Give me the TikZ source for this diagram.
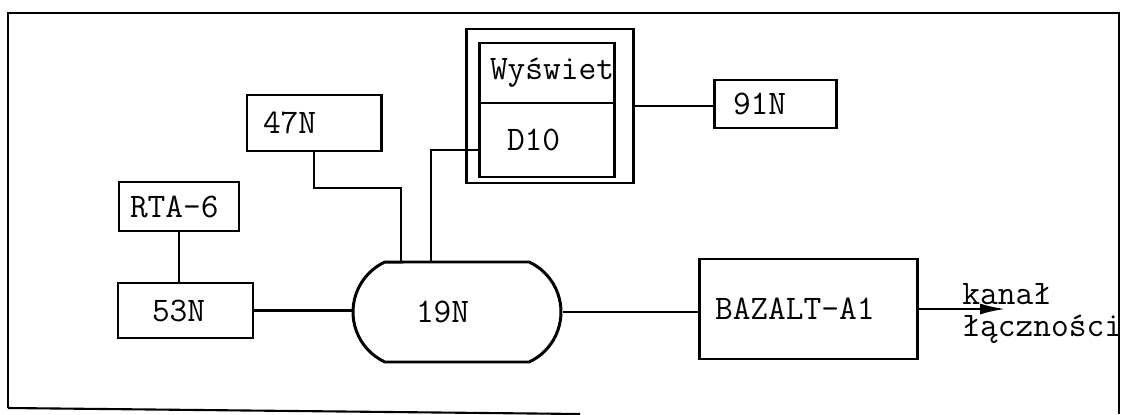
\documentclass[tikz,border=0pt]{standalone}
\usepackage{fontspec}
\usetikzlibrary{shapes.misc,arrows.meta}
\tikzset{
  blok/.style={draw,line width=1.7pt,align=left,inner ysep=0pt},
  link/.style={line width=1.2pt}
}
\begin{document}
\begin{tikzpicture}[every node/.style={font=\ttfamily\fontsize{19.6}{18.1}\selectfont}]
\useasboundingbox (0,0) rectangle (22.64,8.28);
% frame
\draw[line width=1.2pt] (0.16,0.12) -- (0.16,8.02) -- (22.38,8.02) -- (22.38,0);
\draw[line width=1.2pt] (0.16,0.12) -- (11.6,0);
% blocks
\node[blok,minimum height=1.12cm,text width=2.04cm,inner xsep=0.32cm] (n47) at (6.28,5.82) {47N};
\node[blok,minimum height=0.98cm,text width=1.96cm,inner xsep=0.22cm] (rta) at (3.58,4.15) {RTA-6};
\node[blok,minimum height=1.1cm,text width=1.34cm,inner xsep=0.68cm] (n53) at (3.71,2.07) {53N};
\node[blok,rounded rectangle,rounded rectangle arc length=130,minimum width=4.16cm,minimum height=2cm,
  text width=1.64cm,inner xsep=0pt] (n19) at (9.14,2.04) {19N};
\node[blok,minimum height=2cm,text width=3.72cm,inner xsep=0.32cm] (bazalt) at (16.16,2.1) {BAZALT-A1};
\node[blok,minimum height=0.96cm,text width=1.68cm,inner xsep=0.38cm] (n91) at (15.5,6.2) {91N};
% display unit
\node[draw,line width=1.7pt,minimum width=3.34cm,minimum height=3.08cm,inner sep=0pt] (wysw) at (10.99,6.16) {};
\node[blok,minimum height=1.2cm,text width=2.26cm,inner xsep=0.22cm] (wys) at (10.93,6.82) {Wyświet};
\node[blok,minimum height=1.48cm,text width=1.58cm,inner xsep=0.56cm] (dten) at (10.93,5.48) {D10};
\node[anchor=north west,align=left,inner sep=0pt] (kanal) at (19.24,2.62) {kanał\\łączności};
% links
\coordinate (w1) at (8.02,4.52);
\coordinate (w2) at (8.62,5.28);
\coordinate (kres) at (20.1,2.06);
\draw[link] (n47.south) |- (w1) -- (w1 |- n19.north);
\draw[link] (n19.north -| w2) -- (w2) -- (w2 -| dten.west);
\draw[link] (wysw.east) -- (wysw.east -| n91.west);
\draw[link] (rta.south) -- (rta.south |- n53.north);
\draw[link] (n53.east) -- (n53.east -| n19.west);
\draw[link] (n19.east) -- (n19.east -| bazalt.west);
\draw[link,-{Latex[length=5mm,width=2.2mm]}] (bazalt.east) -- (bazalt.east -| kres);
\end{tikzpicture}
\end{document}
